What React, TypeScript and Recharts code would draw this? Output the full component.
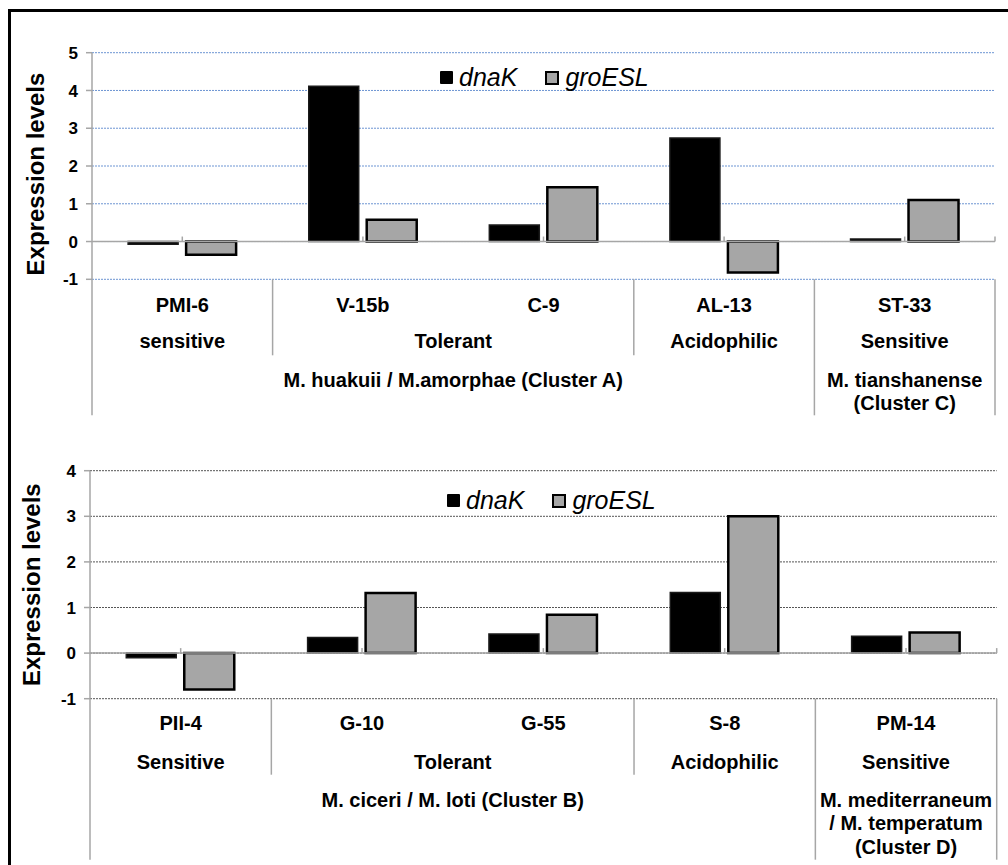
import React from 'react';
import { BarChart, Bar, XAxis, YAxis, CartesianGrid, ReferenceLine, Legend } from 'recharts';

const FONT = '"Liberation Sans", Arial, Helvetica, sans-serif';
const AXIS = '#a6a6a6';
const GREY_FILL = '#a6a6a6';

// Panel 1: Cluster A / Cluster C strains
const topStrains = ['PMI-6', 'V-15b', 'C-9', 'AL-13', 'ST-33'];
const topDnaK = [-0.07, 4.11, 0.44, 2.74, 0.07];
const topGroESL = [-0.35, 0.58, 1.44, -0.82, 1.1];
const topPhenotype = ['sensitive', 'Tolerant', 'Tolerant', 'Acidophilic', 'Sensitive'];
const topCluster = [
  'M. huakuii / M.amorphae (Cluster A)',
  'M. huakuii / M.amorphae (Cluster A)',
  'M. huakuii / M.amorphae (Cluster A)',
  'M. huakuii / M.amorphae (Cluster A)',
  'M. tianshanense\n(Cluster C)',
];
const topTicks = [-1, 0, 1, 2, 3, 4, 5];

// Panel 2: Cluster B / Cluster D strains
const bottomStrains = ['PII-4', 'G-10', 'G-55', 'S-8', 'PM-14'];
const bottomDnaK = [-0.1, 0.34, 0.42, 1.33, 0.37];
const bottomGroESL = [-0.8, 1.32, 0.84, 3.0, 0.45];
const bottomPhenotype = ['Sensitive', 'Tolerant', 'Tolerant', 'Acidophilic', 'Sensitive'];
const bottomCluster = [
  'M. ciceri / M. loti (Cluster B)',
  'M. ciceri / M. loti (Cluster B)',
  'M. ciceri / M. loti (Cluster B)',
  'M. ciceri / M. loti (Cluster B)',
  'M. mediterraneum\n/ M. temperatum\n(Cluster D)',
];
const bottomTicks = [-1, 0, 1, 2, 3, 4];

const seriesNames = ['dnaK', 'groESL'];

type Layout = {
  rows: number[];
  lineStep: number;
  sepMid: number;
  sepOuter: number;
};

const runLength = (arr: string[], i: number) => {
  let j = i;
  while (j + 1 < arr.length && arr[j + 1] === arr[i]) j++;
  return j - i + 1;
};

const makeTick = (phen: string[], cluster: string[], names: string[], lay: Layout) => (props: any) => {
  const { x, y, payload, index } = props;
  const n = names.length;
  const bw = props.width ? props.width / n : (payload.offset || 0) * 2;
  const left = x - bw / 2;
  const right = x + bw / 2;
  const textProps = {
    fontFamily: FONT,
    fontSize: 20,
    fontWeight: 700,
    fill: '#000',
    textAnchor: 'middle' as const,
    dominantBaseline: 'central' as const,
  };
  const out: React.ReactNode[] = [];
  out.push(
    <text key="l1" x={x} y={y + lay.rows[0]} {...textProps}>
      {payload.value}
    </text>
  );
  if (index === 0 || phen[index] !== phen[index - 1]) {
    const len = runLength(phen, index);
    out.push(
      <text key="l2" x={x + ((len - 1) * bw) / 2} y={y + lay.rows[1]} {...textProps}>
        {phen[index]}
      </text>
    );
  }
  if (index === 0 || cluster[index] !== cluster[index - 1]) {
    const len = runLength(cluster, index);
    const cx = x + ((len - 1) * bw) / 2;
    cluster[index].split('\n').forEach((line, k) => {
      out.push(
        <text key={'l3' + k} x={cx} y={y + lay.rows[2] + k * lay.lineStep} {...textProps}>
          {line}
        </text>
      );
    });
  }
  // left boundary of this category
  let sep = 0;
  if (index === 0 || cluster[index] !== cluster[index - 1]) sep = lay.sepOuter;
  else if (phen[index] !== phen[index - 1]) sep = lay.sepMid;
  if (sep > 0) {
    out.push(<line key="sl" x1={left} x2={left} y1={y} y2={y + sep} stroke={AXIS} strokeWidth={1.5} />);
  }
  if (index === n - 1) {
    out.push(<line key="sr" x1={right} x2={right} y1={y} y2={y + lay.sepOuter} stroke={AXIS} strokeWidth={1.5} />);
  }
  return <g>{out}</g>;
};

const LegendBox = ({ names }: { names: string[] }) => (
  <div style={{ display: 'flex', alignItems: 'center', fontFamily: FONT, fontSize: 25, fontStyle: 'italic', lineHeight: 1, color: '#000', whiteSpace: 'nowrap' }}>
    <span style={{ display: 'inline-block', width: 13, height: 13, background: '#000', borderRadius: 1 }} />
    <span style={{ marginLeft: 6 }}>{names[0]}</span>
    <span style={{ display: 'inline-block', width: 14, height: 14, background: GREY_FILL, border: '2px solid #000', boxSizing: 'border-box', marginLeft: 28 }} />
    <span style={{ marginLeft: 6 }}>{names[1]}</span>
  </div>
);

type PanelProps = {
  strains: string[];
  dnaK: number[];
  groESL: number[];
  phen: string[];
  cluster: string[];
  ticks: number[];
  height: number;
  margin: { top: number; right: number; bottom: number; left: number };
  yWidth: number;
  xHeight: number;
  gridColor: string;
  legendPos: { left: number; top: number };
  labelX: number;
  labelShift: number;
  lay: Layout;
};

const Panel = (p: PanelProps) => {
  const data = p.strains.map((s, i) => ({ strain: s, dnaK: p.dnaK[i], groESL: p.groESL[i] }));
  const dom: [number, number] = [p.ticks[0], p.ticks[p.ticks.length - 1]];
  return (
    <BarChart width={1008} height={p.height} data={data} margin={p.margin} barCategoryGap="20%" barGap={8}>
      <CartesianGrid horizontal vertical={false} stroke={p.gridColor} strokeDasharray="2 1" strokeWidth={1} />
      <XAxis
        dataKey="strain"
        axisLine={false}
        tickLine={false}
        tickSize={0}
        tickMargin={0}
        interval={0}
        height={p.xHeight}
        tick={makeTick(p.phen, p.cluster, p.strains, p.lay)}
      />
      <YAxis
        width={p.yWidth}
        domain={dom}
        ticks={p.ticks}
        allowDataOverflow
        axisLine={{ stroke: AXIS, strokeWidth: 1.5 }}
        tickLine={{ stroke: AXIS, strokeWidth: 1.5 }}
        tickSize={6}
        tickMargin={8}
        tick={{ fill: '#000', fontSize: 17, fontWeight: 700, fontFamily: FONT }}
        label={(lp: any) => {
          const vb = lp.viewBox || {};
          const cy = (vb.y || 0) + (vb.height || 0) / 2 + p.labelShift;
          return (
            <text
              x={p.labelX}
              y={cy}
              transform={`rotate(-90 ${p.labelX} ${cy})`}
              textAnchor="middle"
              dominantBaseline="central"
              fontFamily={FONT}
              fontSize={24}
              fontWeight={700}
              fill="#000"
            >
              Expression levels
            </text>
          );
        }}
      />
      <ReferenceLine
        y={0}
        ifOverflow="visible"
        shape={(sp: any) => (
          <g>
            <line x1={sp.x1} y1={sp.y1} x2={sp.x2} y2={sp.y2} stroke={AXIS} strokeWidth={1.5} />
            <line x1={sp.x2} y1={sp.y2} x2={sp.x2} y2={sp.y2 - 5} stroke={AXIS} strokeWidth={1.5} />
          </g>
        )}
      />
      {data.map((d) => (
        <ReferenceLine
          key={d.strain}
          segment={[{ x: d.strain, y: 0 }, { x: d.strain, y: 0 }]}
          ifOverflow="visible"
          shape={(sp: any) => <line x1={sp.x1} y1={sp.y1} x2={sp.x1} y2={sp.y1 - 5} stroke={AXIS} strokeWidth={1.5} />}
        />
      ))}
      <Bar dataKey="dnaK" name={seriesNames[0]} fill="#000" stroke="#1a1a1a" strokeWidth={1.5} isAnimationActive={false} />
      <Bar dataKey="groESL" name={seriesNames[1]} fill={GREY_FILL} stroke="#000" strokeWidth={2.5} isAnimationActive={false} />
      <Legend
        layout="vertical"
        align="center"
        verticalAlign="middle"
        wrapperStyle={{ left: p.legendPos.left, top: p.legendPos.top, width: 'auto', height: 'auto' }}
        content={() => <LegendBox names={seriesNames} />}
      />
    </BarChart>
  );
};

export default function App() {
  return (
    <div style={{ position: 'relative', width: 1008, height: 865, overflow: 'hidden', background: '#fff' }}>
      <style>{'body{margin:0;}'}</style>
      <div
        style={{
          position: 'absolute',
          left: 8,
          top: 9,
          width: 1100,
          height: 1000,
          borderLeft: '3px solid #000',
          borderTop: '3px solid #000',
        }}
      />
      <div style={{ position: 'absolute', left: 0, top: 0 }}>
        <Panel
          strains={topStrains}
          dnaK={topDnaK}
          groESL={topGroESL}
          phen={topPhenotype}
          cluster={topCluster}
          ticks={topTicks}
          height={420}
          margin={{ top: 52.7, right: 13, bottom: 0, left: 0 }}
          yWidth={92}
          xHeight={140.7}
          gridColor="#6d95d3"
          legendPos={{ left: 440, top: 65 }}
          labelX={35}
          labelShift={8}
          lay={{ rows: [26, 62, 101], lineStep: 23, sepMid: 76, sepOuter: 136 }}
        />
      </div>
      <div style={{ position: 'absolute', left: 0, top: 420 }}>
        <Panel
          strains={bottomStrains}
          dnaK={bottomDnaK}
          groESL={bottomGroESL}
          phen={bottomPhenotype}
          cluster={bottomCluster}
          ticks={bottomTicks}
          height={445}
          margin={{ top: 50.7, right: 11.3, bottom: 0, left: 0 }}
          yWidth={90}
          xHeight={166.3}
          gridColor="#555555"
          legendPos={{ left: 447, top: 68 }}
          labelX={32}
          labelShift={0}
          lay={{ rows: [24.6, 63, 101], lineStep: 23.4, sepMid: 76, sepOuter: 161 }}
        />
      </div>
    </div>
  );
}
